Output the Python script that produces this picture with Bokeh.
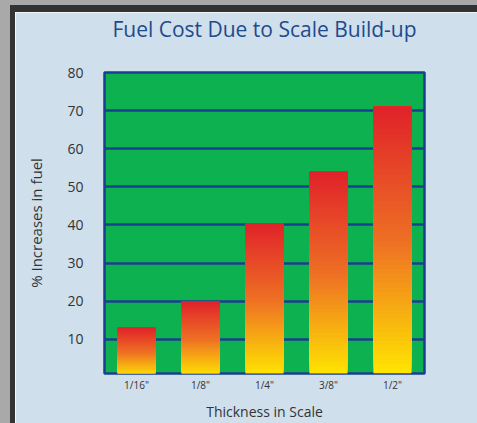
from bokeh.plotting import figure
from bokeh.models import ColumnDataSource, FactorRange, Range1d, Div
from bokeh.layouts import row, column
from bokeh.embed import file_html
from bokeh.resources import INLINE

# ---- data ----
categories = ['1/16"', '1/8"', '1/4"', '3/8"', '1/2"']
values = [13, 20, 40.5, 54, 71]
y_ticks = [10, 20, 30, 40, 50, 60, 70, 80]

title = "Fuel Cost Due to Scale Build-up"
x_label = "Thickness in Scale"
y_label = "% Increases in fuel"

PANEL = "#cfdfec"
GREEN = "#0db14f"
BLUE = "#1b3f8f"
TXT = "#333333"
GRAY = "#a9a9a9"
DARK = "#333333"
# gradient stops: bottom -> middle -> top
STOPS = [(255, 232, 0), (238, 112, 36), (224, 34, 42)]


def grad(f):
    if f < 0.5:
        a, b, t = STOPS[0], STOPS[1], f / 0.5
    else:
        a, b, t = STOPS[1], STOPS[2], (f - 0.5) / 0.5
    return "#%02x%02x%02x" % tuple(int(round(a[k] + (b[k] - a[k]) * t)) for k in range(3))


# gradient slices for each bar (yellow at bottom -> red at top);
# each slice runs to the bar top and later slices paint over earlier ones
N = 60
xs, bots, tops, cols = [], [], [], []
for cat, v in zip(categories, values):
    for i in range(N):
        xs.append(cat)
        bots.append(v * i / N)
        tops.append(v)
        cols.append(grad((i + 0.5) / N))
src = ColumnDataSource(dict(x=xs, bottom=bots, top=tops, color=cols))

p = figure(x_range=FactorRange(*categories), y_range=Range1d(1, 80),
           width=462, height=411, output_backend="svg", toolbar_location=None,
           min_border_left=89, min_border_right=53, min_border_top=60, min_border_bottom=46,
           margin=0)

p.background_fill_color = GREEN
p.border_fill_color = PANEL
p.outline_line_color = BLUE
p.outline_line_width = 2.5

p.vbar(x="x", bottom="bottom", top="top", width=0.59, fill_color="color",
       line_color=None, source=src)

p.title.text = title
p.title.align = "center"
p.title.text_font = "Open Sans"
p.title.text_font_size = "21px"
p.title.text_font_style = "normal"
p.title.text_color = "#1f4a8c"
p.title.standoff = 0
p.title.padding = dict(left=0, right=0, top=0, bottom=30)

p.xgrid.grid_line_color = None
p.ygrid.grid_line_color = BLUE
p.ygrid.grid_line_width = 2.5
p.ygrid.ticker = y_ticks
p.yaxis.ticker = y_ticks

for ax in (p.xaxis[0], p.yaxis[0]):
    ax.axis_line_color = None
    ax.major_tick_line_color = None
    ax.minor_tick_line_color = None
    ax.major_tick_out = 0
    ax.major_tick_in = 0
    ax.minor_tick_out = 0
    ax.minor_tick_in = 0
    ax.major_label_text_color = TXT
    ax.major_label_text_font = "Open Sans"
    ax.axis_label_text_font = "Open Sans"
    ax.axis_label_text_font_style = "normal"
    ax.axis_label_text_color = TXT

p.yaxis.major_label_text_font_size = "14px"
p.yaxis.major_label_standoff = 21
p.yaxis.axis_label = y_label
p.yaxis.axis_label_text_font_size = "15px"
p.yaxis.axis_label_standoff = 18

p.xaxis.major_label_text_font_size = "10px"
p.xaxis.major_label_standoff = 4
p.xaxis.axis_label = x_label
p.xaxis.axis_label_text_font_size = "14px"
p.xaxis.axis_label_standoff = 7

# surrounding frame: gray backdrop and dark border of the panel
left_gray = Div(width=10, height=423, margin=0, styles={"background-color": GRAY})
top_gray = Div(width=467, height=5, margin=0, styles={"background-color": GRAY})
top_dark = Div(width=467, height=7, margin=0, styles={"background-color": DARK})
left_dark = Div(width=5, height=411, margin=0, styles={"background-color": DARK})

layout = row(left_gray,
             column(top_gray, top_dark, row(left_dark, p, spacing=0, margin=0),
                    spacing=0, margin=0),
             spacing=0, margin=0)

open("out.html", "w").write(file_html(layout, INLINE))
